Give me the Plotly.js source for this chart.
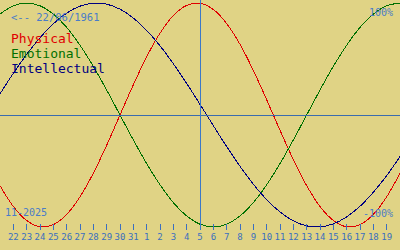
<!DOCTYPE html>
<html>
<head>
<meta charset="utf-8">
<script src="https://cdn.plot.ly/plotly-3.0.1.min.js"></script>
<style>
html,body{margin:0;padding:0;background:#e0d385;}
#chart{width:400px;height:250px;}
#chart .scatterlayer path, #chart .shapelayer path, #chart path.xtick{shape-rendering:crispEdges;}
</style>
</head>
<body>
<div id="chart"></div>
<script>
// Day index (0 = 22nd of first month); one extra day on each side fills the plot edges
const dayIndex = [-1,0,1,2,3,4,5,6,7,8,9,10,11,12,13,14,15,16,17,18,19,20,21,22,23,24,25,26,27,28,29];
const dayLabels = ["22","23","24","25","26","27","28","29","30","31","1","2","3","4","5","6","7","8","9","10","11","12","13","14","15","16","17","18","19"];
const physical = [-0.631,-0.817,-0.942,-0.998,-0.979,-0.888,-0.731,-0.520,-0.270,0,0.270,0.520,0.731,0.888,0.979,0.998,0.942,0.817,0.631,0.398,0.136,-0.136,-0.398,-0.631,-0.817,-0.942,-0.998,-0.979,-0.888,-0.731,-0.520];
const emotional = [0.901,0.975,1,0.975,0.901,0.782,0.623,0.434,0.223,0,-0.223,-0.434,-0.623,-0.782,-0.901,-0.975,-1,-0.975,-0.901,-0.782,-0.623,-0.434,-0.223,0,0.223,0.434,0.623,0.782,0.901,0.975,1];
const intellectual = [0.189,0.372,0.541,0.690,0.815,0.910,0.972,0.999,0.990,0.945,0.866,0.756,0.618,0.458,0.282,0.095,-0.095,-0.282,-0.458,-0.618,-0.756,-0.866,-0.945,-0.990,-0.999,-0.972,-0.910,-0.815,-0.690,-0.541,-0.372];
const todayIndex = 14;
const birthText = "<-- 22/06/1961";
const monthText = "11-2025";
const seriesNames = ["Physical","Emotional","Intellectual"];
const seriesColors = ["#e00000","#007000","#000080"];

const mono = "DejaVu Sans Mono, Liberation Mono, monospace";
const axisBlue = "#3a6fbf";
const traces = [physical, emotional, intellectual].map((ys, k) => ({
  x: dayIndex, y: ys, type: 'scatter', mode: 'lines', name: seriesNames[k],
  line: {color: seriesColors[k], width: 1, shape: 'spline', smoothing: 1},
  hoverinfo: 'skip'
}));
const tickvals = dayLabels.map((d, i) => i);
const H = 230;
const py = p => 1 - p / H;
const anns = [
  {text: birthText, x: 10/400, y: py(17), xanchor: 'left', color: '#4a7cc8', size: 10.5},
  {text: seriesNames[0], x: 10/400, y: py(38.5), xanchor: 'left', color: seriesColors[0], size: 13},
  {text: seriesNames[1], x: 10/400, y: py(53), xanchor: 'left', color: seriesColors[1], size: 13},
  {text: seriesNames[2], x: 10/400, y: py(68), xanchor: 'left', color: seriesColors[2], size: 13},
  {text: "100%", x: 394/400, y: py(12.5), xanchor: 'right', color: '#4a7cc8', size: 10},
  {text: "-100%", x: 394/400, y: py(213), xanchor: 'right', color: '#4a7cc8', size: 10},
  {text: monthText, x: 4/400, y: py(212.5), xanchor: 'left', color: '#4a7cc8', size: 10}
].map(a => ({
  text: a.text, xref: 'paper', yref: 'paper', x: a.x, y: a.y, xanchor: a.xanchor, yanchor: 'middle',
  showarrow: false, font: {family: mono, size: a.size, color: a.color}, borderpad: 0
}));

const layout = {
  width: 400, height: 250,
  margin: {l: 0, r: 0, t: 0, b: 250 - H, pad: 0},
  paper_bgcolor: '#e0d385', plot_bgcolor: '#e0d385',
  showlegend: false,
  xaxis: {range: [-1, 29], tickvals: tickvals, ticktext: dayLabels, ticks: 'inside', ticklen: 6,
    tickwidth: 1, tickcolor: axisBlue, showgrid: false, zeroline: false, showline: false,
    tickfont: {family: mono, size: 9, color: axisBlue}, fixedrange: true},
  yaxis: {range: [-1.027, 1.027], showgrid: false, zeroline: false, showticklabels: false,
    ticks: '', showline: false, fixedrange: true},
  shapes: [
    {type: 'line', xref: 'paper', yref: 'y', x0: 0, x1: 1, y0: 0, y1: 0, line: {color: '#3a6cae', width: 1}},
    {type: 'line', xref: 'x', yref: 'paper', x0: todayIndex, x1: todayIndex, y0: 0, y1: 1, line: {color: '#3b78c8', width: 1}}
  ],
  annotations: anns
};
Plotly.newPlot('chart', traces, layout, {staticPlot: true, displayModeBar: false});
</script>
</body>
</html>
